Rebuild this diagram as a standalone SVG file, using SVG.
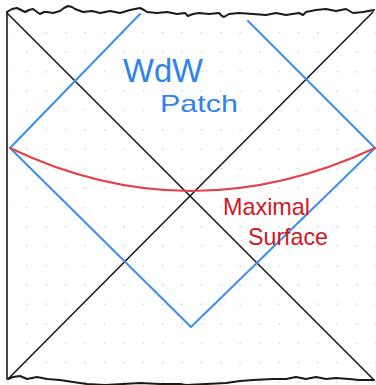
<svg xmlns="http://www.w3.org/2000/svg" width="376" height="385" viewBox="0 0 376 385">
  <defs>
    <pattern id="dots" patternUnits="userSpaceOnUse" x="6.7" y="12.6" width="19.4" height="19.4">
      <circle cx="0.8" cy="0.8" r="0.8" fill="#c4c4c4"/>
    </pattern>
    <style>
      .ink { fill: none; stroke: #1a1a1a; stroke-width: 1.6; stroke-linecap: round; stroke-linejoin: round; }
      .sing { fill: none; stroke: #1a1a1a; stroke-width: 2; stroke-linecap: round; stroke-linejoin: round; }
      .wdw { fill: none; stroke: #3a8ff0; stroke-width: 2; stroke-linecap: round; stroke-linejoin: round; }
      .surf { fill: none; stroke: #e04448; stroke-width: 2; stroke-linecap: round; }
      .label { font-family: "Liberation Sans", "DejaVu Sans", sans-serif; }
      .blue { fill: #2e84ec; }
      .red { fill: #d4161e; }
    </style>
  </defs>

  <!-- dotted paper -->
  <rect width="376" height="385" fill="#ffffff"/>
  <rect width="376" height="385" fill="url(#dots)"/>

  <!-- Penrose diagram frame and horizons -->
  <g id="connectors">
    <path id="left-boundary" class="ink" d="M7,12 L7,379"/>
    <path id="horizon-a" class="ink" d="M7,13 L374,380"/>
    <path id="horizon-b" class="ink" d="M373,12 L8,379"/>
    <!-- future singularity -->
    <path id="future-singularity" class="sing" d="M7,12 L12,9 L17,8 L21,10 L25,12 L29,10 L33,9 L37,12 L40,14 L44,12 L47,12 L53,13 L60,11 L64,8 L68,6 L72,7 L75,9 L83,12 L92,11 L100,13 L110,11 L120,13 L130,10 L135,9 L140,8 L144,10 L147,12 L157,13 L167,12 L177,14 L185,13 L188,16 L193,14 L199,13 L209,14 L219,13 L222,16 L224,17 L229,14 L239,13 L253,14 L266,15 L276,13 L286,15 L299,13 L303,15 L306,12 L316,10 L326,9 L336,11 L346,9 L353,13 L363,12 L374,10"/>
    <!-- past singularity -->
    <path id="past-singularity" class="sing" d="M8,379 L13,377 L20,376 L27,379 L32,378 L37,377 L42,378 L47,379 L60,380 L73,382 L87,384 L105,385 L123,384 L140,383 L160,384 L180,384 L186,385 L206,384 L226,383 L240,381 L253,380 L273,379 L286,379 L296,377 L301,378 L306,379 L311,378 L316,377 L321,378 L326,379 L336,378 L349,379 L359,380 L374,380"/>
  </g>

  <!-- Wheeler-DeWitt patch -->
  <g id="wdw-patch">
    <path class="wdw" d="M140,14 L10,148 L191,327 L375,148 L248,21"/>
  </g>

  <!-- maximal slice -->
  <g id="maximal-surface">
    <path class="surf" d="M10,148 Q190,234 375,148"/>
  </g>

  <g id="wdw-label">
    <text class="label blue" x="123" y="82" font-size="34" textLength="80" lengthAdjust="spacingAndGlyphs">WdW</text>
    <text class="label blue" x="160" y="112" font-size="24" textLength="78" lengthAdjust="spacingAndGlyphs">Patch</text>
  </g>

  <g id="surface-label">
    <text class="label red" x="223" y="215" font-size="24" textLength="87" lengthAdjust="spacingAndGlyphs">Maximal</text>
    <text class="label red" x="248" y="245" font-size="24" textLength="80" lengthAdjust="spacingAndGlyphs">Surface</text>
  </g>
</svg>
